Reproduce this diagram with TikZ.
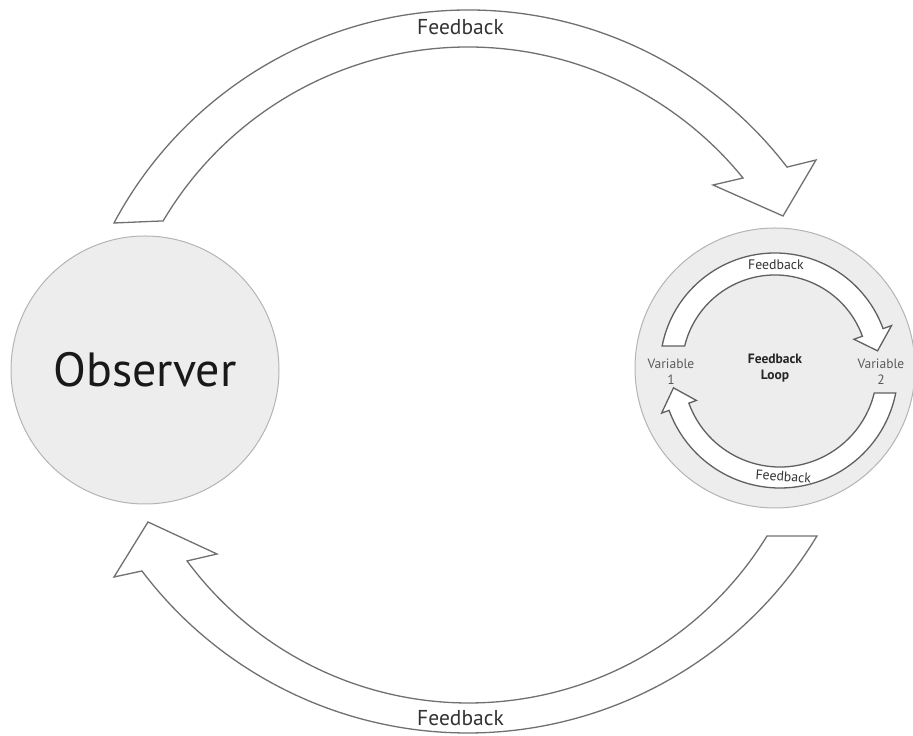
\documentclass[tikz,border=0pt]{standalone}
\usepackage{fontspec}
\setmainfont{PT Sans}
\usetikzlibrary{calc}
\definecolor{discfill}{HTML}{EDEDED}
\definecolor{discedge}{HTML}{B4B4B4}
\definecolor{arrowgray}{HTML}{707070}
\definecolor{smallgray}{HTML}{606060}
\definecolor{labelgray}{HTML}{333333}
\definecolor{vargray}{HTML}{5A5A5A}
\tikzset{
  bigarrow/.style={draw=arrowgray, fill=white, line width=1.3pt, line join=miter},
  smallarrow/.style={draw=smallgray, fill=white, line width=1.3pt, line join=miter},
  disc/.style={circle, draw=discedge, fill=discfill, line width=1pt, inner sep=0pt},
  biglabel/.style={font=\fontsize{21.5}{24}\selectfont, text=labelgray, inner sep=0pt, anchor=base},
  smalllabel/.style={font=\fontsize{13.8}{16}\selectfont, text=labelgray, inner sep=0pt, anchor=base},
  varlabel/.style={font=\fontsize{13.5}{16}\selectfont, text=vargray, inner sep=0pt, align=center},
}
\begin{document}
\begin{tikzpicture}[x=1pt,y=1pt]
\useasboundingbox (0,0) rectangle (913,736);

% the two discs
\node[disc, minimum size=268pt, font=\fontsize{48}{52}\selectfont, text=black!90] (observer) at (145,366) {Observer};
\node[disc, minimum size=280pt, font=\fontsize{13.5}{15.5}\selectfont\bfseries, text=black!85, align=center] (loop) at (775,368) {Feedback\\Loop};

% centres of the large curved arrows
\coordinate (O1) at (468.5,324.5);
\coordinate (I1) at (468.0,334.8);
\coordinate (O2) at (467.6,411.3);
\coordinate (I2) at (468.6,383.1);

% upper large arrow: observer -> feedback loop
\path[bigarrow]
  ($(O1)+(152:401.5pt)$) arc[start angle=152, end angle=37.5, radius=401.5pt]
  -- (816,576) coordinate (h1r) -- (783,520) coordinate (h1t) -- (713,551) coordinate (h1l)
  -- ($(I1)+(39.06:354.2pt)$) arc[start angle=39.06, end angle=149.4, radius=354.2pt]
  -- cycle;

% lower large arrow: feedback loop -> observer
\path[bigarrow]
  ($(I2)+(-31.53:350.1pt)$) -- ($(O2)+(-31.16:408.3pt)$)
  arc[start angle=-31.16, end angle=-142.9, radius=408.3pt]
  -- (114,159) coordinate (h2l) -- (148,214) coordinate (h2t) -- (217,182) coordinate (h2r)
  -- ($(I2)+(-143.54:350.1pt)$) arc[start angle=-143.54, end angle=-31.53, radius=350.1pt]
  -- cycle;

% small arrows inside the feedback loop
\coordinate (S1) at (775,368);
\coordinate (S2) at (780,366);
\path[smallarrow]
  ($(S1)+(168.97:115pt)$) arc[start angle=168.97, end angle=20, radius=115pt]
  -- ($(S1)+(20:124pt)$) -- ($(S1)+(9.5:104pt)$) -- ($(S1)+(20:84pt)$)
  -- ($(S1)+(20:93pt)$) arc[start angle=20, end angle=166.32, radius=93pt]
  -- cycle;
\path[smallarrow]
  ($(S2)+(-13.72:97pt)$) -- ($(S2)+(-11.24:118pt)$)
  arc[start angle=-11.24, end angle=-160, radius=118pt]
  -- ($(S2)+(200:126pt)$) -- ($(S2)+(189.5:108pt)$) -- ($(S2)+(200:89pt)$)
  -- ($(S2)+(200:97pt)$) arc[start angle=-160, end angle=-13.72, radius=97pt]
  -- cycle;

% labels
\node[biglabel] (fbtop) at (460.5,701) {Feedback};
\node[biglabel] (fbbottom) at (460.5,10) {Feedback};
\node[smalllabel] (fbsmalltop) at (776,466) {Feedback};
\node[smalllabel, rotate=-4] (fbsmallbottom) at (783,255) {Feedback};
\node[varlabel] (var1) at (671,364.5) {Variable\\1};
\node[varlabel] (var2) at (881,364.5) {Variable\\2};
\end{tikzpicture}
\end{document}
